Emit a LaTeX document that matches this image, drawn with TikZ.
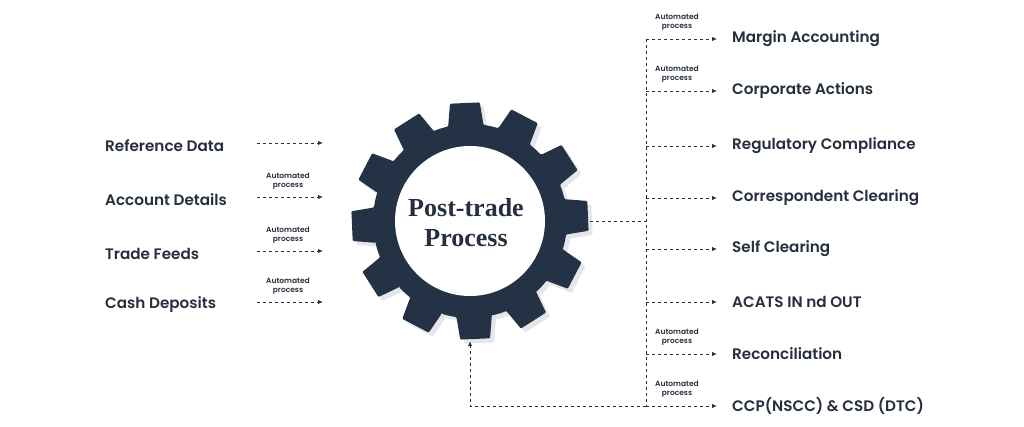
\documentclass[tikz,border=0pt]{standalone}
\usepackage{fontspec}
\setmainfont{Poppins}
\newfontfamily\labelfont{Poppins SemiBold}
\newfontfamily\titlefont{Liberation Serif}
\usetikzlibrary{arrows.meta,positioning}
\definecolor{gearBlue}{HTML}{233345}
\definecolor{gearShadow}{HTML}{E4E6E9}
\definecolor{inkDark}{HTML}{262F3D}
\tikzset{
  link/.style={inkDark, line width=0.9pt, dash pattern=on 3pt off 3pt},
  flow/.style={link, -{Latex[length=5pt,width=4.5pt]}},
  srclbl/.style={anchor=west, inner sep=0pt, yshift=-1.5pt, text=inkDark, font=\labelfont\fontsize{15.2}{17}\selectfont},
  outlbl/.style={anchor=west, inner xsep=15pt, inner ysep=0pt, text=inkDark, font=\labelfont\fontsize{15.2}{17}\selectfont},
  autonote/.style={align=center, inner sep=0pt, text=inkDark, font=\labelfont\fontsize{7.5}{9}\selectfont}
}
\begin{document}
\begin{tikzpicture}[x=1pt, y=-1pt]
  \fill[white] (0,0) rectangle (1024,427);
  \useasboundingbox (0,0) rectangle (1024,427);
  \def\Rt{119}
  \def\Rr{97}
  \def\rot{2.5}
  % gear with its soft shadow
  \foreach \dx/\col in {4/gearShadow, 0/gearBlue}{
    \fill[\col, rounded corners=1pt, shift={(470+\dx,221+\dx)}] (-\rot-10.5:\Rr)
      \foreach \a in {0,30,...,330}{
        -- (\a-\rot-10.5:\Rr) -- (\a-\rot-7.2:\Rt) -- (\a-\rot+7.2:\Rt) -- (\a-\rot+10.5:\Rr)
        arc[start angle=\a-\rot+10.5, end angle=\a-\rot+19.5, radius=\Rr]
      } -- cycle;
  }
  \fill[white] (470,221) circle (75);
  \node[circle, minimum size=240pt, inner sep=0pt] (gear) at (470,221) {};
  \node[align=center, text=inkDark, font=\titlefont\bfseries\fontsize{26}{30}\selectfont]
    (core) at (466,223) {Post-trade\\Process};

  % inputs
  \foreach \name/\txt/\yy/\note in {
    ref/Reference Data/144/0,
    acc/Account Details/198/1,
    trd/Trade Feeds/252/1,
    cash/Cash Deposits/303/1}{
    \node[srclbl] (\name) at (105,\yy) {\txt};
    \coordinate (\name-a) at (257,\yy-1);
    \coordinate (\name-b) at (323,\yy-1);
    \draw[flow] (\name-a) -- (\name-b);
    \ifnum\note=1
      \node[autonote] (\name-n) at (288,\yy-17) {Automated\\process};
    \fi
  }

  % outputs
  \foreach \name/\txt/\yy/\note in {
    mrg/Margin Accounting/39/1,
    corp/Corporate Actions/91/1,
    reg/Regulatory Compliance/146/0,
    corr/Correspondent Clearing/198/0,
    self/Self Clearing/249/0,
    acats/ACATS IN nd OUT/302/0,
    rec/Reconciliation/354/1,
    ccp/CCP(NSCC) \& CSD (DTC)/406/1}{
    \node[outlbl] (\name) at (717,\yy) {\txt};
    \coordinate (\name-t) at (646,\yy);
    \draw[flow] (\name-t) -- (\name.west);
    \ifnum\note=1
      \node[autonote] (\name-n) at (677,\yy-17) {Automated\\process};
    \fi
  }
  \draw[link] (gear.east) -- (gear.east -| mrg-t);
  \draw[link] (mrg-t) -- (ccp-t);
  \draw[flow] (ccp-t) -| (gear.south);
\end{tikzpicture}
\end{document}
